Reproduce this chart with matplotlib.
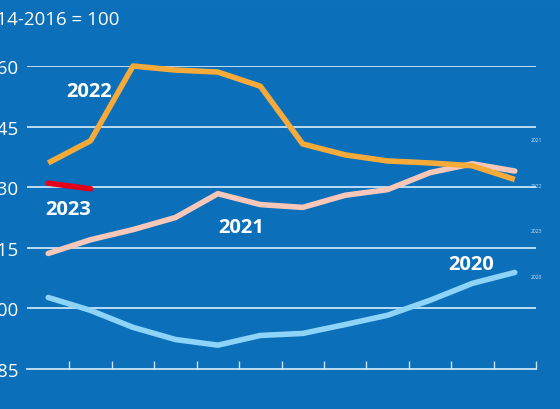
import matplotlib.pyplot as plt
import numpy as np

# monthly index values, 2014-2016 = 100
y2020 = [102.7, 99.5, 95.3, 92.3, 90.9, 93.3, 93.8, 96.0, 98.3, 102.0, 106.2, 108.9]
y2021 = [113.6, 117.0, 119.5, 122.5, 128.4, 125.7, 125.0, 128.0, 129.4, 133.6, 135.8, 134.0]
y2022 = [136.0, 141.5, 160.0, 159.0, 158.5, 155.0, 140.7, 138.0, 136.5, 136.0, 135.3, 131.9]
y2023 = [131.0, 129.6]
yticks = [85, 100, 115, 130, 145, 160]

bg = '#0b6fb9'
grid_c = '#c9e4f6'
plt.rcParams['font.family'] = ['Open Sans', 'DejaVu Sans']

fig = plt.figure(figsize=(5.6, 4.1), dpi=100, facecolor=bg)
ax = fig.add_axes([27 / 560, 1 - 370 / 410, 509 / 560, 303 / 410])
ax.set_facecolor(bg)

x = np.arange(12) + 0.5
for v in yticks[1:]:
    ax.axhline(v, color=grid_c, lw=1.3, zorder=1)

lw = 4.0
ax.plot(x, y2020, color='#8dd4f8', lw=lw, solid_capstyle='round', zorder=3, clip_on=False)
ax.plot(x, y2021, color='#f7c8ba', lw=lw, solid_capstyle='round', zorder=3, clip_on=False)
ax.plot(x, y2022, color='#f6aa3a', lw=lw, solid_capstyle='butt', zorder=4, clip_on=False)
ax.plot(x[:len(y2023)], y2023, color='#e2001a', lw=lw, solid_capstyle='round', zorder=5, clip_on=False)

ax.set_xlim(0, 12)
ax.set_ylim(85, 160)
for s in ['top', 'right', 'left']:
    ax.spines[s].set_visible(False)
ax.spines['bottom'].set_color(grid_c)
ax.spines['bottom'].set_linewidth(1.3)
ax.set_xticks(np.arange(1, 13))
ax.set_xticklabels([])
ax.tick_params(axis='x', direction='in', length=6, width=1, color=grid_c)
ax.set_yticks(yticks)
ax.set_yticklabels([str(v) for v in yticks])
ax.tick_params(axis='y', length=0, pad=6, labelsize=13.5, labelcolor='white')

lab = dict(color='white', fontsize=14.5, fontweight='bold', ha='center', va='center')
ax.text(1.46, 153.8, '2022', **lab)
ax.text(0.97, 124.6, '2023', **lab)
ax.text(5.05, 120.2, '2021', **lab)
ax.text(10.47, 111.0, '2020', **lab)

small = dict(color='#d8e8f4', fontsize=3.5, ha='center', va='center')
for yy, t in [(141.9, '2021'), (130.5, '2022'), (119.4, '2023'), (108.0, '2020')]:
    ax.text(12.02, yy, t, **small)

fig.text(119 / 560, 1 - 20 / 410, '2014-2016 = 100', color='white', fontsize=13.5,
         ha='right', va='center')
fig.add_artist(plt.Line2D([0, 1], [0.999, 0.999], color='#5a9fd6', lw=1.5))

fig.savefig('out.png', dpi=100, facecolor=bg)
